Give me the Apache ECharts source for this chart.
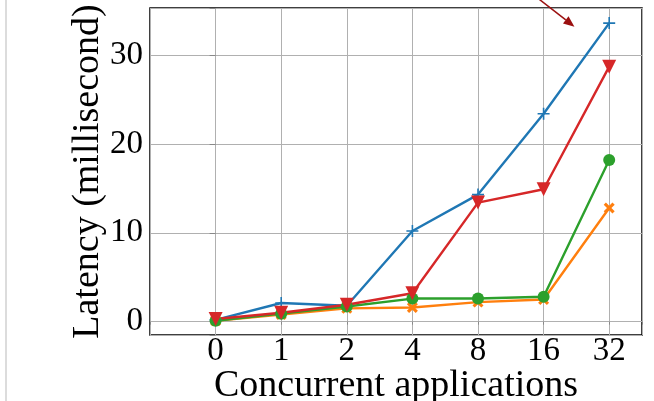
<!DOCTYPE html>
<html>
<head>
<meta charset="utf-8">
<script src="https://cdn.jsdelivr.net/npm/echarts@6/dist/echarts.min.js"></script>
<style>
  html, body { margin: 0; padding: 0; background: #fff; }
  #chart { width: 654px; height: 401px; }
</style>
</head>
<body>
<div id="chart"></div>
<script>
// concurrent applications (x categories, drawn at index positions)
const categories = ['0', '1', '2', '4', '8', '16', '32'];

// latency in milliseconds, one array per line
const blueValues = [0.2, 2.1, 1.8, 10.2, 14.3, 23.4, 33.6];
const orangeValues = [0.1, 0.8, 1.5, 1.6, 2.2, 2.5, 12.8];
const greenValues = [0.1, 0.9, 1.7, 2.6, 2.6, 2.8, 18.2];
const redValues = [0.3, 1.0, 1.9, 3.2, 13.4, 14.9, 28.7];

const yTicks = [0, 10, 20, 30];

const font = '"Liberation Serif", "DejaVu Serif", serif';
const chart = echarts.init(document.getElementById('chart'), null, { renderer: 'canvas' });

const plusPath = 'path://M5.2,0h1.6v12h-1.6z M0,5.2h12v1.6h-12z';
const xPath = 'path://M0,2 L2,0 L5,3 L8,0 L10,2 L7,5 L10,8 L8,10 L5,7 L2,10 L0,8 L3,5 Z';

function toPoints(values) {
  return values.map((v, i) => [i, v]);
}

function makeSeries(name, values, color, symbol, size, extra) {
  return Object.assign({
    name: name,
    type: 'line',
    data: toPoints(values),
    symbol: symbol,
    symbolSize: size,
    showAllSymbol: true,
    lineStyle: { color: color, width: 2.4 },
    itemStyle: { color: color },
    emphasis: { disabled: true },
    animation: false
  }, extra || {});
}

const option = {
  animation: false,
  grid: {
    left: 150, right: 12, top: 8, bottom: 66,
    show: true, borderColor: '#000', borderWidth: 1.5,
    containLabel: false,
    outerBoundsMode: 'none'
  },
  xAxis: {
    type: 'value',
    min: -1, max: 6.5, interval: 1,
    axisLine: { show: false },
    axisTick: { show: true, length: 3, lineStyle: { color: '#888' } },
    splitLine: { show: true, lineStyle: { color: '#b0b0b0', width: 1 } },
    axisLabel: {
      fontFamily: font, fontSize: 33, color: '#000', margin: 0,
      formatter: v => (Number.isInteger(v) && v >= 0 && v < categories.length) ? categories[v] : ''
    },
    name: 'Concurrent applications',
    nameLocation: 'middle',
    nameGap: 32,
    nameMoveOverlap: false,
    nameTextStyle: { fontFamily: font, fontSize: 38, color: '#000' }
  },
  yAxis: {
    type: 'value',
    min: -1.5, max: 35.3,
    axisLine: { show: false },
    axisTick: { show: true, length: 6, lineStyle: { color: '#888' } },
    splitLine: { show: true, lineStyle: { color: '#b0b0b0', width: 1 } },
    axisLabel: {
      fontFamily: font, fontSize: 33, color: '#000', margin: 7,
      formatter: v => yTicks.includes(v) ? String(v) : ''
    },
    name: 'Latency (millisecond)',
    nameLocation: 'middle',
    nameGap: 43,
    nameMoveOverlap: false,
    nameTextStyle: { fontFamily: font, fontSize: 38, color: '#000' }
  },
  series: [
    makeSeries('blue', blueValues, '#1f77b4', plusPath, 12),
    makeSeries('orange', orangeValues, '#ff7f0e', xPath, 11),
    makeSeries('green', greenValues, '#2ca02c', 'circle', 12),
    makeSeries('red', redValues, '#d62728', 'triangle', 14, { symbolRotate: 180 })
  ]
};

chart.setOption(option);

// arrow annotation near the top right, placed in data space
const arrowFrom = chart.convertToPixel({ gridIndex: 0 }, [4.93, 36.3]);
const arrowTo = chart.convertToPixel({ gridIndex: 0 }, [5.47, 33.2]);
const ang = Math.atan2(arrowTo[1] - arrowFrom[1], arrowTo[0] - arrowFrom[0]);
const headLen = 11, headW = 4.5;
const bx = arrowTo[0] - headLen * Math.cos(ang), by = arrowTo[1] - headLen * Math.sin(ang);
const px = -Math.sin(ang) * headW, py = Math.cos(ang) * headW;

chart.setOption({
  graphic: [
    {
      type: 'rect', left: 5, top: 0, z: 100,
      shape: { width: 2, height: 401 },
      style: { fill: '#dcdcdc' }
    },
    {
      type: 'line', z: 100,
      shape: { x1: arrowFrom[0], y1: arrowFrom[1], x2: bx, y2: by },
      style: { stroke: '#9b1010', lineWidth: 1.5 }
    },
    {
      type: 'polygon', z: 100,
      shape: { points: [arrowTo, [bx + px, by + py], [bx - px, by - py]] },
      style: { fill: '#9b1010' }
    }
  ]
});
</script>
</body>
</html>
